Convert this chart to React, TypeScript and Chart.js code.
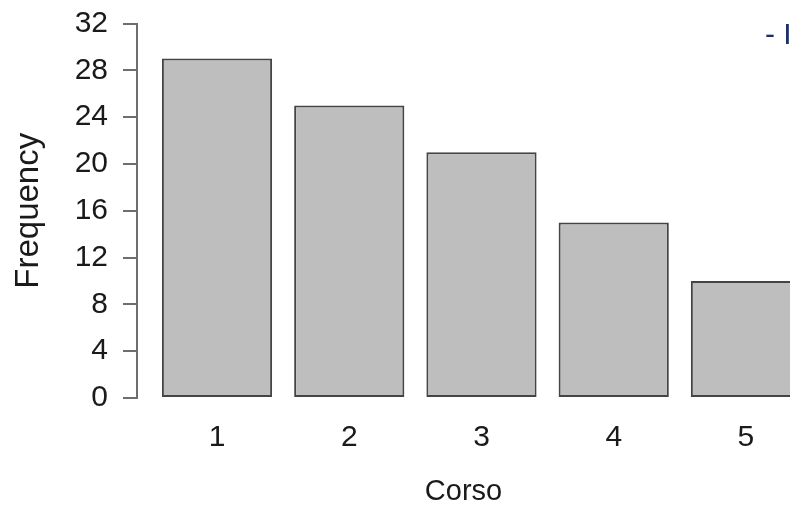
import React, { useEffect, useRef } from 'react';
import { Chart, registerables } from 'chart.js';

Chart.register(...registerables);

const categories = ['1', '2', '3', '4', '5'];
const frequencies = [29, 25, 21, 15, 10];
const yTicks = [0, 4, 8, 12, 16, 20, 24, 28, 32];
const xTitle = 'Corso';
const yTitle = 'Frequency';
const cornerText = '- I';

const FONT = "'Liberation Sans', Arial, sans-serif";

const cornerPlugin = {
  id: 'cornerText',
  afterDraw(chart: any) {
    const ctx = chart.ctx;
    ctx.save();
    ctx.font = `30px ${FONT}`;
    ctx.fillStyle = '#1c2f6b';
    ctx.textAlign = 'left';
    ctx.textBaseline = 'alphabetic';
    ctx.fillText(cornerText, 765, 44);
    ctx.restore();
  },
};

export default function App() {
  const ref = useRef<HTMLCanvasElement>(null);

  useEffect(() => {
    document.body.style.margin = '0';
    const canvas = ref.current;
    if (!canvas) return;
    const chart = new Chart(canvas, {
      type: 'bar',
      data: {
        datasets: [
          {
            data: frequencies.map((v, i) => ({ x: i + 1, y: v })),
            backgroundColor: '#bebebe',
            borderColor: '#444444',
            borderWidth: 2,
            borderSkipped: false,
            barPercentage: 1 / 1.2,
            categoryPercentage: 1,
          },
        ],
      },
      options: {
        responsive: false,
        animation: false,
        layout: { autoPadding: false, padding: { top: 23.5, left: 0, right: 0, bottom: 0 } },
        plugins: { legend: { display: false }, tooltip: { enabled: false } },
        scales: {
          x: {
            type: 'linear',
            offset: false,
            min: 0.395,
            max: 5.333,
            grid: { display: false },
            border: { display: false },
            afterBuildTicks: (s: any) => {
              s.ticks = categories.map((_, i) => ({ value: i + 1 }));
            },
            afterFit: (s: any) => {
              s.height = 113;
              s.paddingLeft = 0;
              s.paddingRight = 0;
            },
            ticks: {
              callback: (v: any) => categories[Number(v) - 1] ?? '',
              font: { family: FONT, size: 30 },
              color: '#1a1a1a',
              padding: 14,
              maxRotation: 0,
              autoSkip: false,
            },
            title: {
              display: true,
              text: xTitle,
              font: { family: FONT, size: 29 },
              color: '#1a1a1a',
              padding: { top: 0, bottom: 2 },
            },
          },
          y: {
            min: 0,
            max: 32,
            afterBuildTicks: (s: any) => {
              s.ticks = yTicks.map((v) => ({ value: v }));
            },
            afterFit: (s: any) => {
              s.width = 137;
              s.paddingTop = 0;
              s.paddingBottom = 0;
            },
            grid: {
              drawOnChartArea: false,
              drawTicks: true,
              tickLength: 14,
              tickColor: '#6e6e6e',
              lineWidth: 2,
            },
            border: { display: true, color: '#6e6e6e', width: 2 },
            ticks: {
              font: { family: FONT, size: 30 },
              color: '#1a1a1a',
              padding: 15,
            },
            title: {
              display: true,
              text: yTitle,
              font: { family: FONT, size: 33 },
              color: '#1a1a1a',
              padding: { top: 9, bottom: 0 },
            },
          },
        },
      },
      plugins: [cornerPlugin],
    });
    return () => chart.destroy();
  }, []);

  return (
    <div style={{ position: 'fixed', left: 0, top: 0, width: 790, height: 511 }}>
      <canvas ref={ref} width={790} height={511} />
    </div>
  );
}
